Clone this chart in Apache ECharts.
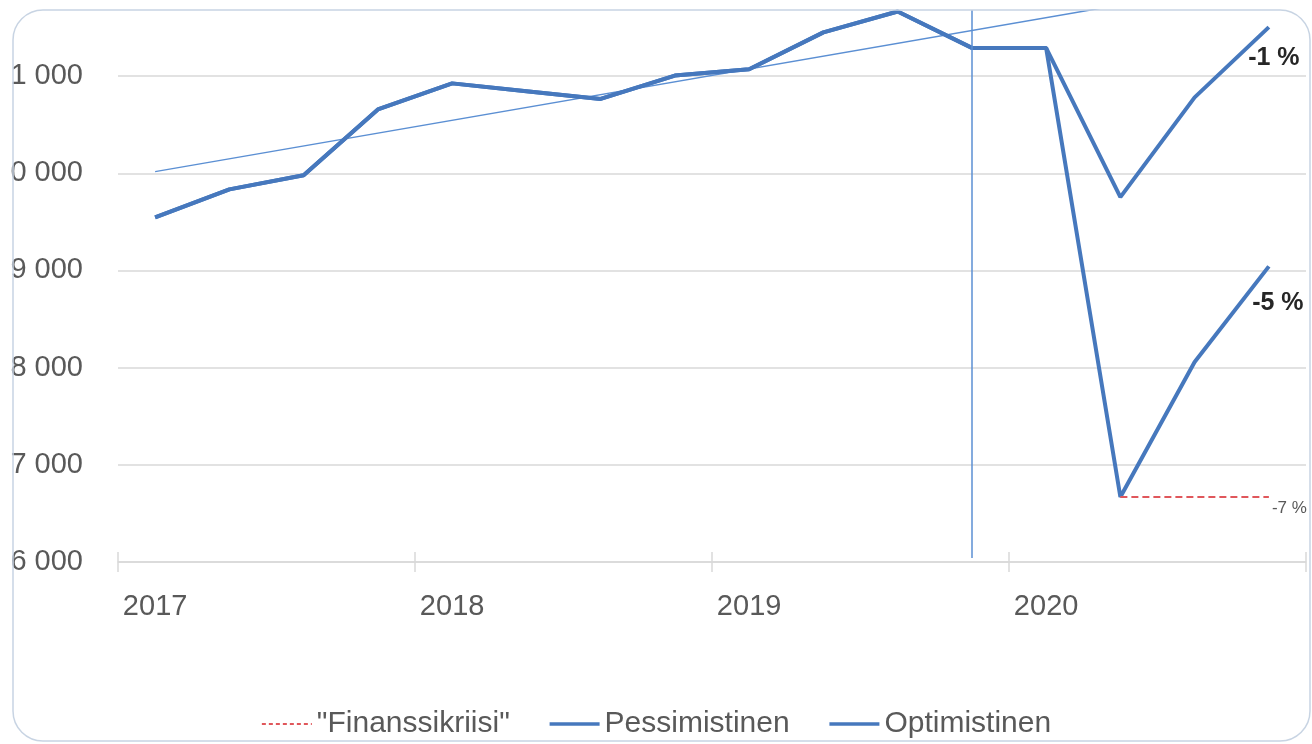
<!DOCTYPE html>
<html>
<head>
<meta charset="utf-8">
<script src="https://cdn.jsdelivr.net/npm/echarts@6/dist/echarts.min.js"></script>
<style>
html,body{margin:0;padding:0;background:#fff;}
#chart{width:1312px;height:744px;}
</style>
</head>
<body>
<div id="chart"></div>
<script>
// Quarters 2017Q1 .. 2020Q4
const categories = ['2017','2017Q2','2017Q3','2017Q4','2018','2018Q2','2018Q3','2018Q4','2019','2019Q2','2019Q3','2019Q4','2020','2020Q2','2020Q3','2020Q4'];
const yearLabels = ['2017','2018','2019','2020'];
const pessimistinen = [9546, 9834, 9980, 10657, 10925, 10845, 10765, 11005, 11070, 11450, 11665, 11290, 11290, 6669, 8058, 9042];
const optimistinen  = [9546, 9834, 9980, 10657, 10925, 10845, 10765, 11005, 11070, 11450, 11665, 11290, 11290, 9755, 10781, 11504];
const finanssikriisi = [null, null, null, null, null, null, null, null, null, null, null, null, null, 6669, 6669, 6669];
const trendi = [10017, null, null, null, null, null, null, null, null, null, null, null, null, null, null, 11997];
const yTickValues = [6000, 7000, 8000, 9000, 10000, 11000];
const yTickLabels = ['6 000', '7 000', '8 000', '9 000', '0 000', '1 000'];
const endLabels = { finanssikriisi: '-7 %', pessimistinen: '-5 %', optimistinen: '-1 %' };
const markerCategory = '2019Q4';
const seriesNames = ['"Finanssikriisi"', 'Pessimistinen', 'Optimistinen'];

const FONT = 'Liberation Sans, Arial, sans-serif';
const GRAY = '#595959';
const BLUE = '#4678bd';
const RED = '#e0575b';

const chart = echarts.init(document.getElementById('chart'), null, { renderer: 'canvas' });
chart.setOption({
  backgroundColor: '#ffffff',
  animation: false,
  grid: { left: 118, right: 6, top: 10, bottom: 182, containLabel: false },
  legend: {
    data: [
      { name: seriesNames[0], lineStyle: { width: 2, color: RED, type: [4, 3] } },
      { name: seriesNames[1], lineStyle: { width: 3.5, color: BLUE } },
      { name: seriesNames[2], lineStyle: { width: 3.5, color: BLUE } }
    ],
    bottom: 0,
    left: 'center',
    itemWidth: 50,
    itemHeight: 12,
    itemGap: 38,
    itemStyle: { opacity: 0 },
    textStyle: { color: GRAY, fontSize: 30, fontFamily: FONT }
  },
  xAxis: [{
    type: 'category',
    data: categories,
    boundaryGap: true,
    axisLine: { show: true, lineStyle: { color: '#d9d9d9', width: 1.5 } },
    axisTick: { show: true, interval: 3, length: 10, lineStyle: { color: '#d9d9d9', width: 1.5 } },
    axisLabel: {
      interval: 3, margin: 30, color: GRAY, fontSize: 29, fontFamily: FONT,
      formatter: (v) => yearLabels.indexOf(v) >= 0 ? v : ''
    },
    splitLine: { show: false }
  }, {
    type: 'category',
    data: categories,
    position: 'bottom',
    boundaryGap: true,
    axisLine: { show: false },
    axisTick: { show: true, inside: true, interval: 3, length: 10, lineStyle: { color: '#d9d9d9', width: 1.5 } },
    axisLabel: { show: false },
    splitLine: { show: false }
  }],
  yAxis: {
    type: 'value',
    min: 6000,
    max: 11680,
    interval: 1000,
    axisLine: { show: false },
    axisTick: { show: false },
    axisLabel: {
      margin: 35, color: GRAY, fontSize: 29, fontFamily: FONT, showMaxLabel: false,
      formatter: (v) => { const k = yTickValues.indexOf(v); return k >= 0 ? yTickLabels[k] : ''; }
    },
    splitLine: { show: true, showMaxLine: false, lineStyle: { color: '#d9d9d9', width: 1.5 } }
  },
  series: [
    {
      name: 'Trendi',
      type: 'line',
      data: trendi,
      connectNulls: true,
      symbol: 'none',
      lineStyle: { color: '#5b8fd3', width: 1.5 },
      z: 1
    },
    {
      name: seriesNames[1],
      type: 'line',
      data: pessimistinen,
      symbol: 'none',
      itemStyle: { color: BLUE },
      lineStyle: { color: BLUE, width: 4 },
      endLabel: {
        show: true, formatter: endLabels.pessimistinen,
        distance: 0, align: 'center', verticalAlign: 'middle', offset: [9, 37],
        color: '#262626', fontSize: 25, fontWeight: 'bold', fontFamily: FONT
      },
      z: 3
    },
    {
      name: seriesNames[2],
      type: 'line',
      data: optimistinen,
      symbol: 'none',
      itemStyle: { color: BLUE },
      lineStyle: { color: BLUE, width: 4 },
      endLabel: {
        show: true, formatter: endLabels.optimistinen,
        distance: 0, align: 'center', verticalAlign: 'middle', offset: [5, 31],
        color: '#262626', fontSize: 25, fontWeight: 'bold', fontFamily: FONT
      },
      markLine: {
        silent: true,
        symbol: ['none', 'none'],
        label: { show: false },
        lineStyle: { color: '#5b8fd3', width: 1.5, type: 'solid' },
        data: [[{ coord: [markerCategory, 6040] }, { coord: [markerCategory, 11680] }]]
      },
      z: 3
    },
    {
      name: seriesNames[0],
      type: 'line',
      data: finanssikriisi,
      symbol: 'none',
      itemStyle: { color: RED },
      lineStyle: { color: RED, width: 1.8, type: [7, 4] },
      endLabel: {
        show: true, formatter: endLabels.finanssikriisi,
        distance: 0, align: 'left', verticalAlign: 'middle', offset: [3, 11],
        color: GRAY, fontSize: 17, fontFamily: FONT
      },
      z: 4
    }
  ],
  graphic: [{
    type: 'rect',
    silent: true,
    z: 100,
    shape: { x: 13, y: 10, width: 1297, height: 731, r: 30 },
    style: { fill: 'none', stroke: '#c8d4e3', lineWidth: 1.5 }
  }]
});
</script>
</body>
</html>
